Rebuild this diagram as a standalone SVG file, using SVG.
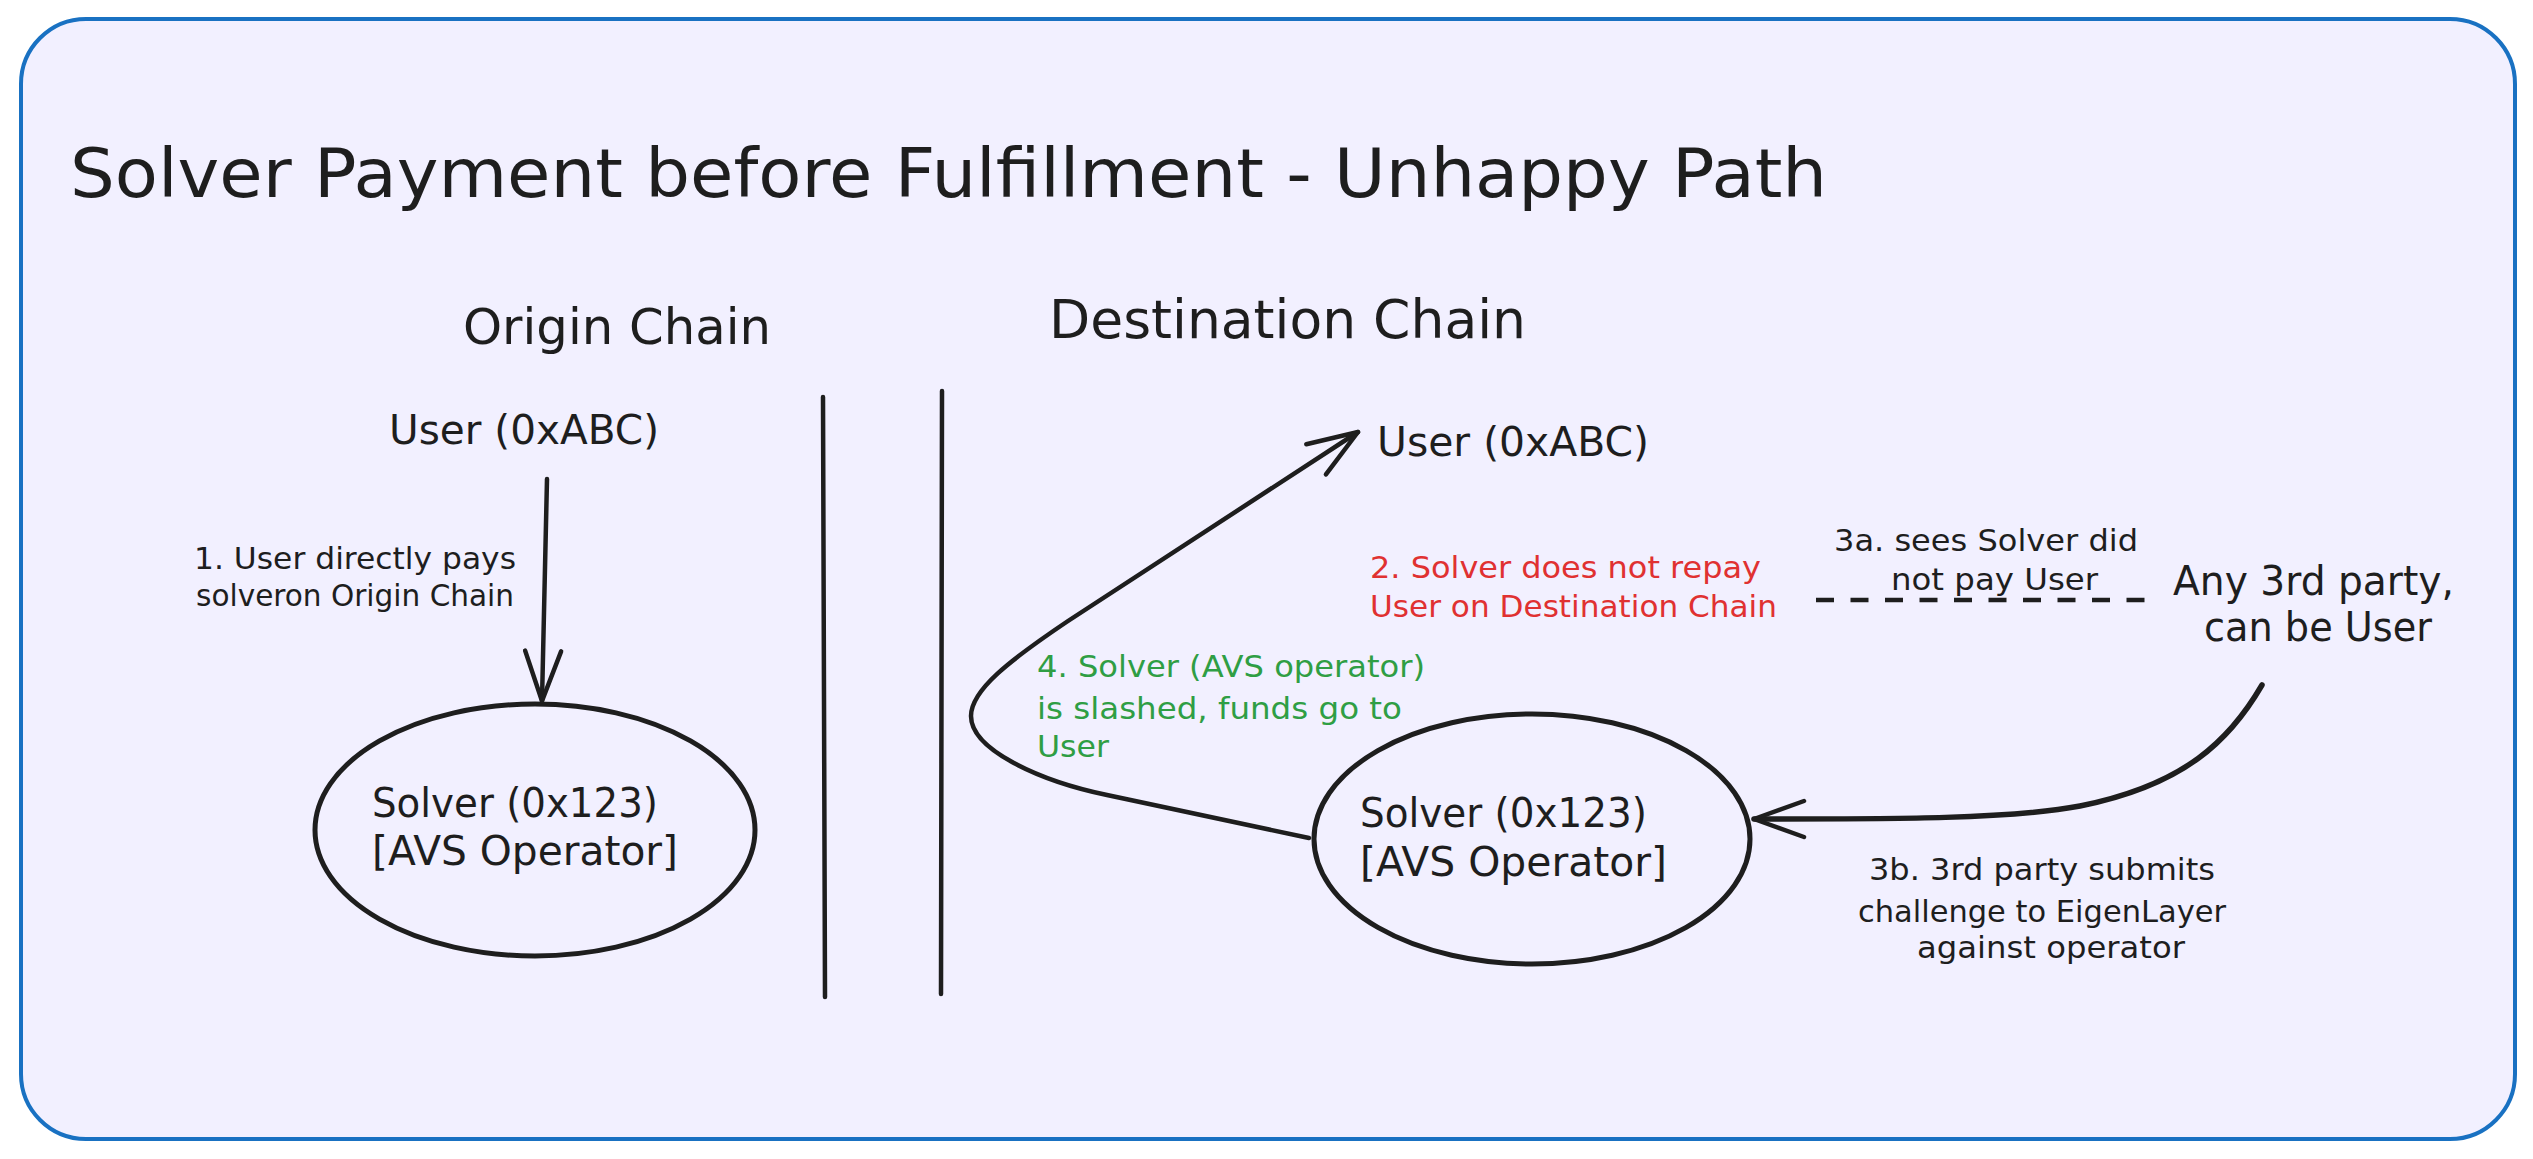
<svg xmlns="http://www.w3.org/2000/svg" width="2533" height="1159" viewBox="0 0 2533 1159">
<style>
  text { font-family: "DejaVu Sans", "Liberation Sans", sans-serif; fill: #1e1e1e; }
  .title { font-size: 68px; }
  .chain { font-size: 50px; }
  .chain2 { font-size: 54px; }
  .node { font-size: 40px; }
  .small { font-size: 31px; }
  .red { fill: #e03131; }
  .green { fill: #2f9e44; }
  .ln { fill: none; stroke: #1e1e1e; stroke-width: 4.5; stroke-linecap: round; stroke-linejoin: round; }
  .ell { fill: none; stroke: #1e1e1e; stroke-width: 5; }
  .dash { fill: none; stroke: #1e1e1e; stroke-width: 4.5; stroke-dasharray: 18 16.5; }
</style>
<defs>
  <marker id="arrowhead" markerUnits="userSpaceOnUse" viewBox="-60 -30 70 60" refX="0" refY="0" markerWidth="70" markerHeight="60" orient="auto" overflow="visible">
    <path d="M-50,-18 L0,0 L-50,18" fill="none" stroke="#1e1e1e" stroke-width="4.5" stroke-linecap="round" stroke-linejoin="round"/>
  </marker>
</defs>
<rect x="0" y="0" width="2533" height="1159" fill="#ffffff"/>
<g id="frame">
  <rect x="21" y="19" width="2494" height="1120" rx="65" ry="65" fill="#f2f0ff" stroke="#1971c2" stroke-width="4"/>
</g>
<g id="title">
  <text class="title" x="70" y="197" textLength="1757" lengthAdjust="spacingAndGlyphs">Solver Payment before Fulfillment - Unhappy Path</text>
</g>
<g id="origin-chain-header">
  <text class="chain" x="463" y="344" textLength="308" lengthAdjust="spacingAndGlyphs">Origin Chain</text>
</g>
<g id="destination-chain-header">
  <text class="chain2" x="1049" y="338" textLength="477" lengthAdjust="spacingAndGlyphs">Destination Chain</text>
</g>
<g id="dividers">
  <line class="ln" x1="823" y1="397" x2="825" y2="997"/>
  <line class="ln" x1="942" y1="391" x2="941" y2="994"/>
</g>
<g id="origin-user">
  <text class="node" x="389" y="444" textLength="270" lengthAdjust="spacingAndGlyphs">User (0xABC)</text>
</g>
<g id="origin-solver">
  <ellipse class="ell" cx="535" cy="830" rx="220" ry="126"/>
  <text class="node" x="372" y="817" textLength="286" lengthAdjust="spacingAndGlyphs">Solver (0x123)</text>
  <text class="node" x="372" y="865" textLength="306" lengthAdjust="spacingAndGlyphs">[AVS Operator]</text>
</g>
<g id="destination-user">
  <text class="node" x="1377" y="456" textLength="272" lengthAdjust="spacingAndGlyphs">User (0xABC)</text>
</g>
<g id="destination-solver">
  <ellipse class="ell" cx="1532" cy="839" rx="218" ry="125"/>
  <text class="node" x="1360" y="827" textLength="287" lengthAdjust="spacingAndGlyphs">Solver (0x123)</text>
  <text class="node" x="1360" y="876" textLength="307" lengthAdjust="spacingAndGlyphs">[AVS Operator]</text>
</g>
<g id="third-party">
  <text class="node" x="2173" y="595" textLength="281" lengthAdjust="spacingAndGlyphs">Any 3rd party,</text>
  <text class="node" x="2204" y="641" textLength="228" lengthAdjust="spacingAndGlyphs">can be User</text>
</g>
<g id="connectors">
  <path id="edge-1" class="ln" d="M547,479 L542,701" marker-end="url(#arrowhead)"/>
  <path id="edge-4" class="ln" d="M1309,838 L1107,795 C1040,781 971,750 971,716 C971,690 1010,660 1068,621 L1358,432" marker-end="url(#arrowhead)"/>
  <path id="edge-3a" class="dash" d="M1816,600 L2161,600"/>
  <path id="edge-3b" class="ln" style="stroke-width:5.5" d="M2262,685 C2230,740 2185,785 2080,806 C2010,819 1900,819 1754,819" marker-end="url(#arrowhead)"/>
</g>
<g id="edge-labels">
  <g id="label-1">
    <text class="small" x="194" y="569" textLength="322" lengthAdjust="spacingAndGlyphs">1. User directly pays</text>
    <text class="small" x="196" y="606" textLength="318" lengthAdjust="spacingAndGlyphs">solveron Origin Chain</text>
  </g>
  <g id="label-2">
    <text class="small red" x="1370" y="578" textLength="391" lengthAdjust="spacingAndGlyphs">2. Solver does not repay</text>
    <text class="small red" x="1370" y="617" textLength="407" lengthAdjust="spacingAndGlyphs">User on Destination Chain</text>
  </g>
  <g id="label-3a">
    <text class="small" x="1834" y="551" textLength="304" lengthAdjust="spacingAndGlyphs">3a. sees Solver did</text>
    <text class="small" x="1891" y="590" textLength="207" lengthAdjust="spacingAndGlyphs">not pay User</text>
  </g>
  <g id="label-3b">
    <text class="small" x="1869" y="880" textLength="346" lengthAdjust="spacingAndGlyphs">3b. 3rd party submits</text>
    <text class="small" x="1858" y="922" textLength="368" lengthAdjust="spacingAndGlyphs">challenge to EigenLayer</text>
    <text class="small" x="1917" y="958" textLength="268" lengthAdjust="spacingAndGlyphs">against operator</text>
  </g>
  <g id="label-4">
    <text class="small green" x="1037" y="677" textLength="388" lengthAdjust="spacingAndGlyphs">4. Solver (AVS operator)</text>
    <text class="small green" x="1037" y="719" textLength="365" lengthAdjust="spacingAndGlyphs">is slashed, funds go to</text>
    <text class="small green" x="1037" y="757" textLength="72" lengthAdjust="spacingAndGlyphs">User</text>
  </g>
</g>
</svg>
